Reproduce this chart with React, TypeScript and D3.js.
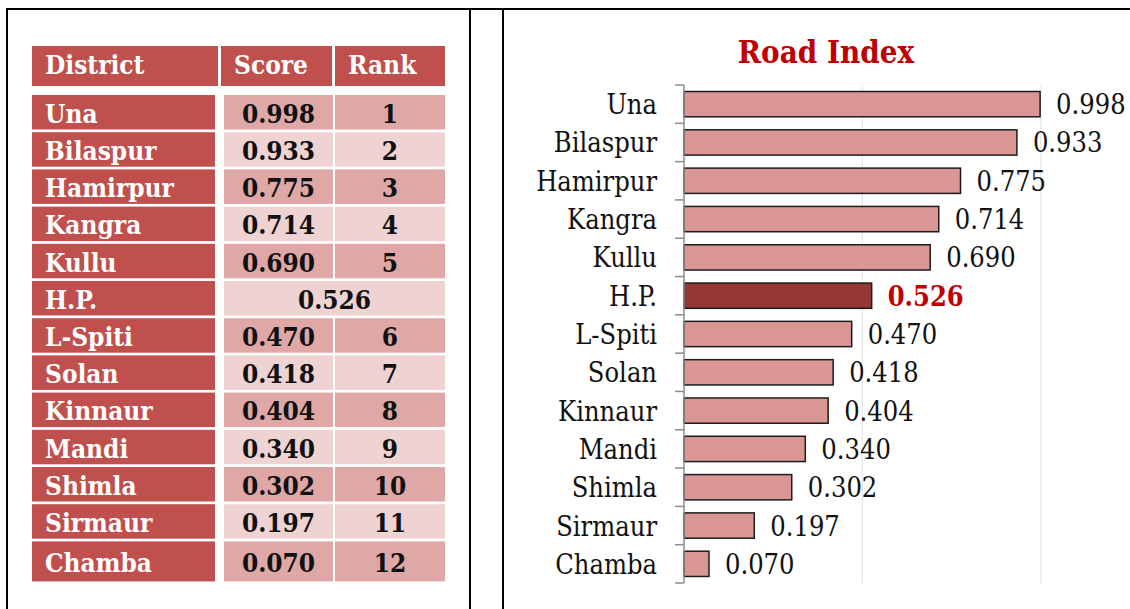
import React from "react";
import * as d3 from "d3";

const districts = ["Una", "Bilaspur", "Hamirpur", "Kangra", "Kullu", "H.P.", "L-Spiti", "Solan", "Kinnaur", "Mandi", "Shimla", "Sirmaur", "Chamba"];
const scores = [0.998, 0.933, 0.775, 0.714, 0.69, 0.526, 0.47, 0.418, 0.404, 0.34, 0.302, 0.197, 0.07];
const ranks = ["1", "2", "3", "4", "5", "", "6", "7", "8", "9", "10", "11", "12"];
const headers = ["District", "Score", "Rank"];
const highlight = "H.P.";
const chartTitle = "Road Index";
const gridValues = [0.5, 1.0];

const FONT = "'DejaVu Serif', 'Liberation Serif', serif";
const SX = 0.9;

const HEAD_RED = "#C0504D";
const CELL_DARK = "#DFA7A6";
const CELL_LIGHT = "#EFD3D3";
const BAR_FILL = "#D99694";
const BAR_HL = "#953735";
const TITLE_RED = "#C00000";

function T(props: {
  x: number; y: number; text: string; size: number; weight?: string;
  fill?: string; anchor?: string;
}) {
  return (
    <text
      transform={`translate(${props.x},${props.y}) scale(${SX},1)`}
      fontFamily={FONT}
      fontSize={props.size}
      fontWeight={props.weight || "normal"}
      fill={props.fill || "#111"}
      textAnchor={props.anchor || "start"}
    >
      {props.text}
    </text>
  );
}

export default function App() {
  const W = 1130, H = 609;

  // table geometry
  const rowTop0 = 95, rowPitch = 37.2, rowH = 34.5, lastRowH = 40;
  const colDistrict = [32, 215], colScore = [224, 333], colRank = [335, 445];
  const headCols = [[32, 218], [221, 332], [335, 445]];

  // chart scales
  const x = d3.scaleLinear().domain([0, 1]).range([684, 1040.8]);
  const y = d3.scaleBand<string>().domain(districts).range([85, 583]).padding(0);
  const bw = y.bandwidth();
  const bh = bw * 0.66;
  const boundaries = districts.map((d) => y(d) as number).concat([583]);

  return (
    <svg width={W} height={H} style={{ position: "fixed", left: 0, top: 0, display: "block", background: "#fff" }}>
      <rect x={0} y={0} width={W} height={H} fill="#fff" />
      {/* panel borders */}
      <line x1={7} y1={9} x2={W} y2={9} stroke="#000" strokeWidth={2} />
      <line x1={7} y1={8} x2={7} y2={H} stroke="#000" strokeWidth={2} />
      <line x1={470} y1={8} x2={470} y2={H} stroke="#000" strokeWidth={2} />
      <line x1={503} y1={8} x2={503} y2={H} stroke="#000" strokeWidth={2} />

      {/* table header */}
      {headers.map((h, i) => (
        <g key={h}>
          <rect x={headCols[i][0]} y={46} width={headCols[i][1] - headCols[i][0]} height={40} fill={HEAD_RED} />
          <T x={headCols[i][0] + 13} y={74} text={h} size={26} weight="bold" fill="#fff" />
        </g>
      ))}

      {/* table rows */}
      {districts.map((d, i) => {
        const top = rowTop0 + i * rowPitch;
        const h = i === districts.length - 1 ? lastRowH : rowH;
        const fill = i % 2 === 0 ? CELL_DARK : CELL_LIGHT;
        const base = top + h / 2 + 10.5;
        const merged = ranks[i] === "";
        return (
          <g key={d}>
            <rect x={colDistrict[0]} y={top} width={colDistrict[1] - colDistrict[0]} height={h} fill={HEAD_RED} />
            <T x={45} y={base} text={d} size={26} weight="bold" fill="#fff" />
            {merged ? (
              <g>
                <rect x={colScore[0]} y={top} width={colRank[1] - colScore[0]} height={h} fill={fill} />
                <T x={(colScore[0] + colRank[1]) / 2} y={base} text={d3.format(".3f")(scores[i])} size={26} weight="bold" anchor="middle" />
              </g>
            ) : (
              <g>
                <rect x={colScore[0]} y={top} width={colScore[1] - colScore[0]} height={h} fill={fill} />
                <rect x={colRank[0]} y={top} width={colRank[1] - colRank[0]} height={h} fill={fill} />
                <T x={(colScore[0] + colScore[1]) / 2} y={base} text={d3.format(".3f")(scores[i])} size={26} weight="bold" anchor="middle" />
                <T x={(colRank[0] + colRank[1]) / 2} y={base} text={ranks[i]} size={26} weight="bold" anchor="middle" />
              </g>
            )}
          </g>
        );
      })}

      {/* chart title */}
      <T x={826} y={63} text={chartTitle} size={31} weight="bold" fill={TITLE_RED} anchor="middle" />

      {/* gridlines */}
      {gridValues.map((v) => (
        <line key={v} x1={x(v)} x2={x(v)} y1={85} y2={583} stroke="#E6E6E6" strokeWidth={1.2} />
      ))}

      {/* bars */}
      {districts.map((d, i) => {
        const by = (y(d) as number) + (bw - bh) / 2;
        const hl = d === highlight;
        return (
          <rect key={d} x={x(0)} y={by} width={x(scores[i]) - x(0)} height={bh}
            fill={hl ? BAR_HL : BAR_FILL} stroke="#1c1c1c" strokeWidth={1.5} />
        );
      })}

      {/* axis */}
      <line x1={x(0)} x2={x(0)} y1={85} y2={583} stroke="#8C8C8C" strokeWidth={1.5} />
      {boundaries.map((b, i) => (
        <line key={i} x1={x(0) - 9} x2={x(0)} y1={b} y2={b} stroke="#8C8C8C" strokeWidth={1.5} />
      ))}

      {/* category labels */}
      {districts.map((d) => (
        <T key={d} x={657} y={(y(d) as number) + bw / 2 + 10} text={d} size={27} anchor="end" />
      ))}

      {/* value labels */}
      {districts.map((d, i) => {
        const hl = d === highlight;
        return (
          <T key={d} x={x(scores[i]) + 16} y={(y(d) as number) + bw / 2 + 10}
            text={d3.format(".3f")(scores[i])} size={27}
            weight={hl ? "bold" : "normal"} fill={hl ? TITLE_RED : "#111"} />
        );
      })}
    </svg>
  );
}
